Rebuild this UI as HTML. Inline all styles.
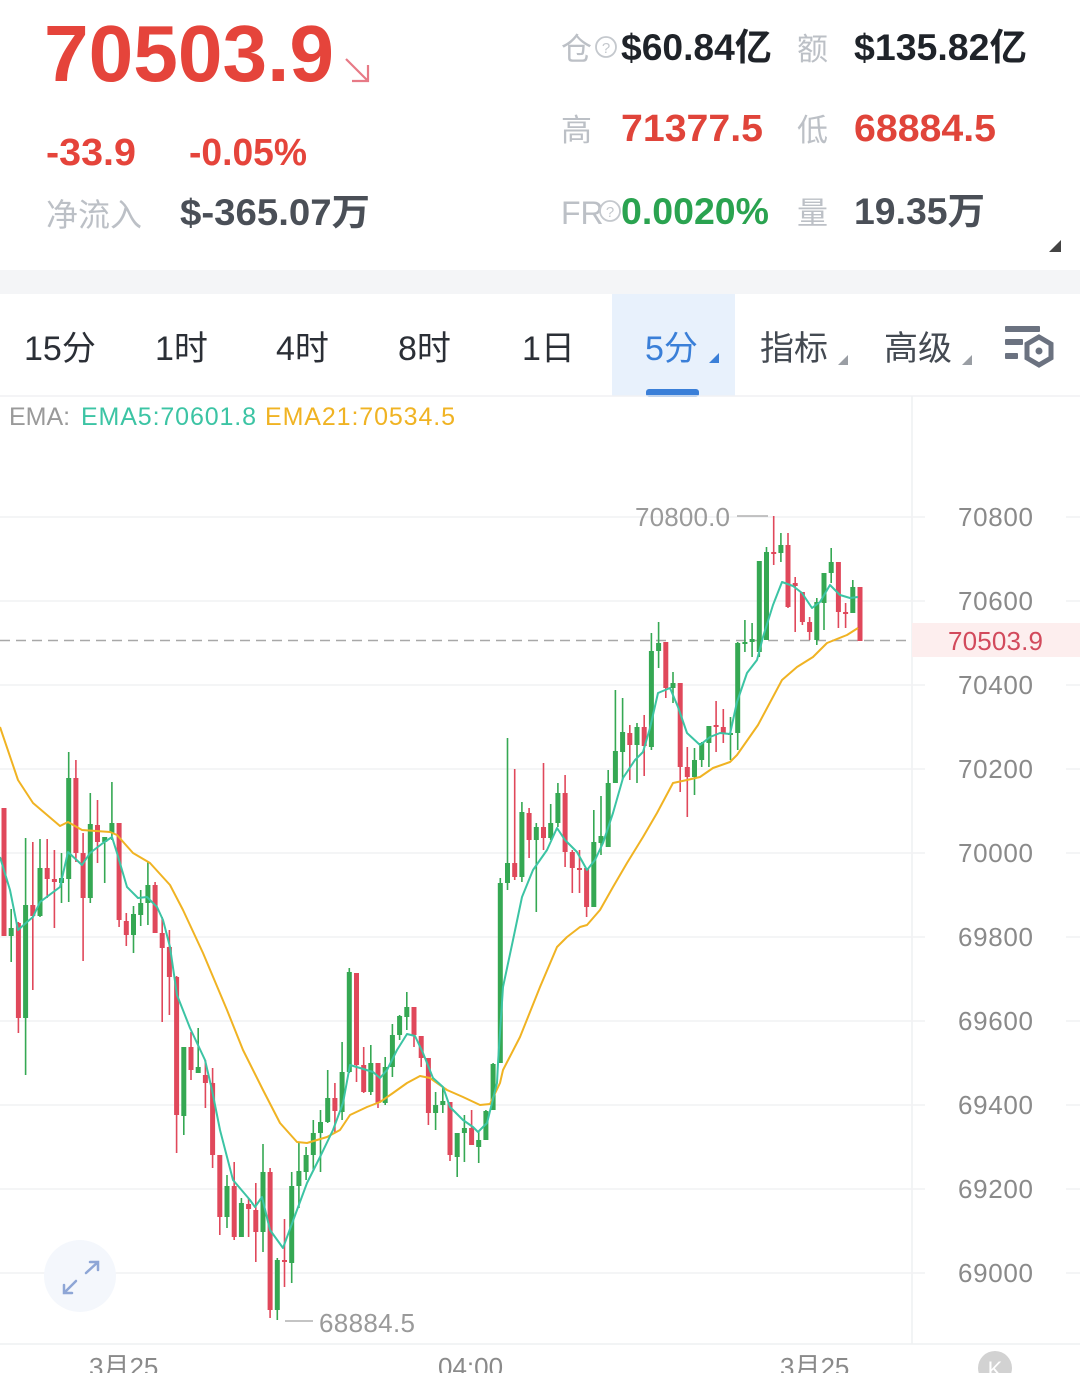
<!DOCTYPE html>
<html><head><meta charset="utf-8"><style>
html,body{margin:0;padding:0;background:#fff;}
body{width:1080px;height:1373px;overflow:hidden;}
svg{display:block;font-family:"Liberation Sans","Noto Sans CJK SC",sans-serif;}
</style></head><body>
<svg width="1080" height="1373" viewBox="0 0 1080 1373" xmlns="http://www.w3.org/2000/svg">
<rect width="1080" height="1373" fill="#fff"/>
<text x="44" y="81" font-size="80" font-weight="bold" fill="#e5443b" textLength="290" lengthAdjust="spacingAndGlyphs">70503.9</text>
<g stroke="#e77a86" stroke-width="2.2" fill="none"><path d="M346 59 L368 81 M368 65 V81 H352"/></g>
<text x="46" y="165" font-size="38" font-weight="bold" fill="#e5443b" textLength="90" lengthAdjust="spacingAndGlyphs">-33.9</text>
<text x="189" y="165" font-size="38" font-weight="bold" fill="#e5443b" textLength="118" lengthAdjust="spacingAndGlyphs">-0.05%</text>
<text x="46" y="226" font-size="32" fill="#bcc0c6">净流入</text>
<text x="180" y="225" font-size="37" font-weight="bold" fill="#4a4f57" textLength="190" lengthAdjust="spacingAndGlyphs">$-365.07万</text>
<text x="561" y="60" font-size="31" fill="#bcc0c6">仓</text>
<circle cx="606" cy="47" r="10" fill="none" stroke="#c4c8cd" stroke-width="1.8"/>
<text x="606" y="53" font-size="15" fill="#c4c8cd" text-anchor="middle">?</text>
<text x="621" y="60" font-size="37" font-weight="bold" fill="#1f2329" textLength="151" lengthAdjust="spacingAndGlyphs">$60.84亿</text>
<text x="797" y="60" font-size="31" fill="#bcc0c6">额</text>
<text x="854" y="60" font-size="37" font-weight="bold" fill="#1f2329" textLength="173" lengthAdjust="spacingAndGlyphs">$135.82亿</text>
<text x="561" y="141" font-size="31" fill="#bcc0c6">高</text>
<text x="621" y="141" font-size="38" font-weight="bold" fill="#e0443a" textLength="142" lengthAdjust="spacingAndGlyphs">71377.5</text>
<text x="797" y="141" font-size="31" fill="#bcc0c6">低</text>
<text x="854" y="141" font-size="38" font-weight="bold" fill="#e0443a" textLength="142" lengthAdjust="spacingAndGlyphs">68884.5</text>
<text x="561" y="224" font-size="32" fill="#bcc0c6">FR</text>
<circle cx="610" cy="211" r="10" fill="#fff" stroke="#c4c8cd" stroke-width="1.8"/>
<text x="610" y="217" font-size="15" fill="#c4c8cd" text-anchor="middle">?</text>
<text x="621" y="224" font-size="37" font-weight="bold" fill="#2aa350" textLength="148" lengthAdjust="spacingAndGlyphs">0.0020%</text>
<text x="797" y="224" font-size="31" fill="#bcc0c6">量</text>
<text x="854" y="224" font-size="37" font-weight="bold" fill="#4a4f57" textLength="131" lengthAdjust="spacingAndGlyphs">19.35万</text>
<path d="M1061 240 V252 H1049 Z" fill="#444"/>
<rect x="0" y="270" width="1080" height="24" fill="#f4f5f7"/>
<rect x="612" y="294" width="123" height="102" fill="#e8f1fc"/>
<g font-size="34" fill="#2b2f36">
<text x="24" y="360">15分</text>
<text x="155" y="360">1时</text>
<text x="276" y="360">4时</text>
<text x="398" y="360">8时</text>
<text x="522" y="360">1日</text>
</g>
<text x="645" y="360" font-size="34" fill="#3a7fd8">5分</text>
<path d="M719 353 V363 H709 Z" fill="#3a7fd8"/>
<rect x="646" y="389" width="53" height="8" rx="3" fill="#3a7fd8"/>
<text x="760" y="360" font-size="34" fill="#444a52">指标</text>
<path d="M848 355 V365 H838 Z" fill="#9a9ea4"/>
<text x="884" y="360" font-size="34" fill="#444a52">高级</text>
<path d="M972 355 V365 H962 Z" fill="#9a9ea4"/>
<g fill="#6b7280">
<rect x="1005" y="326" width="35" height="6" rx="1"/>
<rect x="1005" y="339" width="18" height="6" rx="1"/>
<rect x="1005" y="353" width="13" height="6" rx="1"/>
</g>
<polygon points="1039,337 1051,344 1051,358 1039,365 1027,358 1027,344" fill="none" stroke="#6b7280" stroke-width="5"/>
<circle cx="1039" cy="351" r="3.5" fill="#6b7280"/>
<line x1="0" y1="396" x2="1080" y2="396" stroke="#f0f1f3" stroke-width="1.5"/>
<line x1="912" y1="396" x2="912" y2="1344" stroke="#eef0f2" stroke-width="1.5"/>
<text x="9" y="425" font-size="25" fill="#9a9a9a">EMA:</text>
<text x="81" y="425" font-size="25" fill="#3cc4a4" textLength="175">EMA5:70601.8</text>
<text x="265" y="425" font-size="25" fill="#f0b323" textLength="190">EMA21:70534.5</text>
<g stroke="#f1f2f4" stroke-width="1.5">
<path d="M0 517H925M1066 517H1080M0 601H925M1066 601H1080M0 685H925M1066 685H1080M0 769H925M1066 769H1080M0 853H925M1066 853H1080M0 937H925M1066 937H1080M0 1021H925M1066 1021H1080M0 1105H925M1066 1105H1080M0 1189H925M1066 1189H1080M0 1273H925M1066 1273H1080"/>
</g>
<g font-size="26" fill="#8a8a8a">
<text x="958" y="526" textLength="75">70800</text>
<text x="958" y="610" textLength="75">70600</text>
<text x="958" y="694" textLength="75">70400</text>
<text x="958" y="778" textLength="75">70200</text>
<text x="958" y="862" textLength="75">70000</text>
<text x="958" y="946" textLength="75">69800</text>
<text x="958" y="1030" textLength="75">69600</text>
<text x="958" y="1114" textLength="75">69400</text>
<text x="958" y="1198" textLength="75">69200</text>
<text x="958" y="1282" textLength="75">69000</text>
</g>
<rect x="912" y="623" width="168" height="34" fill="#fdeeee"/>
<text x="948" y="650" font-size="26" fill="#d24a5c" textLength="95">70503.9</text>
<line x1="0" y1="640.5" x2="912" y2="640.5" stroke="#a8a8a8" stroke-width="1.6" stroke-dasharray="10,6"/>
<g stroke="#e0485b" stroke-width="1.6" fill="none">
<path d="M4 808V936M18.4 922V1033M32.8 842V990M47.2 839V898M54.4 850V928M75.9 760V862M83.1 833V961M97.5 800V863M119.1 823V927M126.3 913V946M155.1 882V933M162.2 917V1022M169.4 930V1015M176.6 976V1153M191 1032V1080M205.4 1060V1108M212.6 1068V1168M219.8 1155V1235M234.2 1162V1240M248.6 1198V1237M255.8 1183V1262M270.1 1168V1318M284.5 1219V1287M334.9 1083V1132M356.5 973V1082M363.7 1047V1093M378 1063V1108M414 1007V1047M421.2 1036V1067M428.4 1058V1125M450 1102V1161M471.6 1110V1145M514.7 769V880M529.1 808V858M543.5 763V850M565.1 775V867M572.3 850V893M579.5 850V893M586.6 868V917M629.8 725V780M644.2 715V776M665.8 642V698M680.2 683V792M687.3 747V817M716.1 701V752M723.3 709V743M773.7 516V565M788 533V608M795.2 577V632M802.4 592V625M809.6 617V640M838.4 562V628M845.6 603V628M860 587V641"/>
</g>
<g fill="#e0485b">
<rect x="1.5" y="808" width="5" height="128"/>
<rect x="15.9" y="923" width="5" height="95"/>
<rect x="30.3" y="905" width="5" height="11"/>
<rect x="44.7" y="868" width="5" height="11"/>
<rect x="51.9" y="879" width="5" height="3"/>
<rect x="73.4" y="778" width="5" height="75"/>
<rect x="80.6" y="853" width="5" height="45"/>
<rect x="95" y="825" width="5" height="17"/>
<rect x="116.6" y="823" width="5" height="97"/>
<rect x="123.8" y="921" width="5" height="14"/>
<rect x="152.6" y="885" width="5" height="48"/>
<rect x="159.7" y="933" width="5" height="15"/>
<rect x="166.9" y="947" width="5" height="30"/>
<rect x="174.1" y="977" width="5" height="138"/>
<rect x="188.5" y="1047" width="5" height="23"/>
<rect x="202.9" y="1075" width="5" height="8"/>
<rect x="210.1" y="1083" width="5" height="72"/>
<rect x="217.3" y="1155" width="5" height="62"/>
<rect x="231.7" y="1186" width="5" height="51"/>
<rect x="246.1" y="1204" width="5" height="5"/>
<rect x="253.3" y="1210" width="5" height="22"/>
<rect x="267.6" y="1172" width="5" height="138"/>
<rect x="282" y="1260" width="5" height="2"/>
<rect x="332.4" y="1098" width="5" height="13"/>
<rect x="354" y="973" width="5" height="92"/>
<rect x="361.2" y="1065" width="5" height="27"/>
<rect x="375.5" y="1063" width="5" height="40"/>
<rect x="411.5" y="1007" width="5" height="28"/>
<rect x="418.7" y="1036" width="5" height="22"/>
<rect x="425.9" y="1058" width="5" height="55"/>
<rect x="447.5" y="1102" width="5" height="53"/>
<rect x="469.1" y="1128" width="5" height="17"/>
<rect x="512.2" y="863" width="5" height="14"/>
<rect x="526.6" y="813" width="5" height="27"/>
<rect x="541" y="827" width="5" height="11"/>
<rect x="562.6" y="793" width="5" height="59"/>
<rect x="569.8" y="852" width="5" height="16"/>
<rect x="577" y="868" width="5" height="2"/>
<rect x="584.1" y="868" width="5" height="39"/>
<rect x="627.3" y="733" width="5" height="12"/>
<rect x="641.7" y="727" width="5" height="19"/>
<rect x="663.3" y="642" width="5" height="46"/>
<rect x="677.7" y="683" width="5" height="84"/>
<rect x="684.8" y="767" width="5" height="10"/>
<rect x="713.6" y="725" width="5" height="2"/>
<rect x="720.8" y="727" width="5" height="6"/>
<rect x="771.2" y="552" width="5" height="2"/>
<rect x="785.5" y="545" width="5" height="62"/>
<rect x="792.7" y="583" width="5" height="3"/>
<rect x="799.9" y="592" width="5" height="30"/>
<rect x="807.1" y="622" width="5" height="10"/>
<rect x="835.9" y="562" width="5" height="50"/>
<rect x="843.1" y="612" width="5" height="2"/>
<rect x="857.5" y="587" width="5" height="54"/>
</g>
<g stroke="#35a853" stroke-width="1.6" fill="none">
<path d="M11.2 909V962M25.6 838V1075M40 839V917M61.5 853V903M68.7 752V902M90.3 793V903M104.7 837V883M111.9 782V840M133.5 906V953M140.7 890V926M147.9 862V925M183.8 1047V1135M198.2 1028V1073M227 1175V1228M241.4 1198V1237M263 1144V1252M277.3 1258V1320M291.7 1172V1283M298.9 1143V1208M306.1 1147V1180M313.3 1120V1171M320.5 1110V1172M327.7 1070V1123M342.1 1042V1120M349.3 968V1073M370.8 1045V1095M385.2 1057V1105M392.4 1024V1077M399.6 1015V1040M406.8 992V1030M435.6 1092V1130M442.8 1087V1113M457.2 1133V1177M464.4 1115V1162M478.7 1132V1163M485.9 1110V1140M493.1 1063V1110M500.3 878V1063M507.5 738V890M521.9 802V882M536.3 823V912M550.7 804V840M557.9 783V827M593.8 810V907M601 796V855M608.2 770V847M615.4 690V783M622.6 698V780M637 723V783M651.4 633V750M658.6 622V668M673 672V703M694.5 748V795M701.7 742V767M708.9 726V767M730.5 717V760M737.7 642V750M744.9 620V652M752.1 623V657M759.3 561V657M766.5 547V640M780.9 533V562M816.8 598V645M824 573V630M831.2 548V583M852.8 580V613"/>
</g>
<g fill="#35a853">
<rect x="8.7" y="928" width="5" height="8"/>
<rect x="23.1" y="905" width="5" height="113"/>
<rect x="37.5" y="868" width="5" height="48"/>
<rect x="59" y="878" width="5" height="5"/>
<rect x="66.2" y="778" width="5" height="101"/>
<rect x="87.8" y="824" width="5" height="74"/>
<rect x="102.2" y="837" width="5" height="5"/>
<rect x="109.4" y="823" width="5" height="10"/>
<rect x="131" y="914" width="5" height="21"/>
<rect x="138.2" y="903" width="5" height="12"/>
<rect x="145.4" y="885" width="5" height="18"/>
<rect x="181.3" y="1047" width="5" height="69"/>
<rect x="195.7" y="1067" width="5" height="6"/>
<rect x="224.5" y="1186" width="5" height="31"/>
<rect x="238.9" y="1203" width="5" height="34"/>
<rect x="260.5" y="1172" width="5" height="60"/>
<rect x="274.8" y="1260" width="5" height="50"/>
<rect x="289.2" y="1186" width="5" height="77"/>
<rect x="296.4" y="1171" width="5" height="15"/>
<rect x="303.6" y="1155" width="5" height="17"/>
<rect x="310.8" y="1133" width="5" height="22"/>
<rect x="318" y="1122" width="5" height="11"/>
<rect x="325.2" y="1098" width="5" height="24"/>
<rect x="339.6" y="1072" width="5" height="40"/>
<rect x="346.8" y="972" width="5" height="100"/>
<rect x="368.3" y="1063" width="5" height="29"/>
<rect x="382.7" y="1067" width="5" height="36"/>
<rect x="389.9" y="1035" width="5" height="32"/>
<rect x="397.1" y="1016" width="5" height="19"/>
<rect x="404.3" y="1007" width="5" height="10"/>
<rect x="433.1" y="1105" width="5" height="8"/>
<rect x="440.3" y="1101" width="5" height="4"/>
<rect x="454.7" y="1133" width="5" height="24"/>
<rect x="461.9" y="1128" width="5" height="5"/>
<rect x="476.2" y="1140" width="5" height="7"/>
<rect x="483.4" y="1111" width="5" height="29"/>
<rect x="490.6" y="1064" width="5" height="46"/>
<rect x="497.8" y="883" width="5" height="180"/>
<rect x="505" y="863" width="5" height="20"/>
<rect x="519.4" y="812" width="5" height="65"/>
<rect x="533.8" y="827" width="5" height="13"/>
<rect x="548.2" y="823" width="5" height="15"/>
<rect x="555.4" y="793" width="5" height="30"/>
<rect x="591.3" y="842" width="5" height="65"/>
<rect x="598.5" y="836" width="5" height="7"/>
<rect x="605.7" y="783" width="5" height="64"/>
<rect x="612.9" y="751" width="5" height="32"/>
<rect x="620.1" y="732" width="5" height="20"/>
<rect x="634.5" y="727" width="5" height="18"/>
<rect x="648.9" y="651" width="5" height="96"/>
<rect x="656.1" y="643" width="5" height="8"/>
<rect x="670.5" y="683" width="5" height="5"/>
<rect x="692" y="760" width="5" height="17"/>
<rect x="699.2" y="743" width="5" height="17"/>
<rect x="706.4" y="726" width="5" height="17"/>
<rect x="728" y="733" width="5" height="2"/>
<rect x="735.2" y="643" width="5" height="90"/>
<rect x="742.4" y="642" width="5" height="2"/>
<rect x="749.6" y="639" width="5" height="3"/>
<rect x="756.8" y="561" width="5" height="91"/>
<rect x="764" y="552" width="5" height="88"/>
<rect x="778.4" y="545" width="5" height="8"/>
<rect x="814.3" y="602" width="5" height="38"/>
<rect x="821.5" y="573" width="5" height="30"/>
<rect x="828.7" y="562" width="5" height="11"/>
<rect x="850.3" y="587" width="5" height="26"/>
</g>
<polyline fill="none" stroke="#f0b323" stroke-width="2" stroke-linejoin="round" points="0,727 18,780 33,803 60,826 68,822 82,830 110,832 117,835 133,853 150,863 170,885 183,910 203,953 227,1010 243,1050 263,1090 280,1123 297,1142 307,1143 327,1137 340,1130 350,1115 367,1107 380,1102 393,1093 407,1083 420,1076 430,1078 447,1090 463,1097 480,1105 490,1104 500,1083 503,1070 520,1037 540,987 557,947 567,937 580,927 587,925 600,910 613,887 627,863 643,837 657,813 673,783 687,780 700,777 713,768 730,762 737,755 758,725 782,680 797,667 813,657 827,643 847,635 858,628"/>
<polyline fill="none" stroke="#3cc4a4" stroke-width="2" stroke-linejoin="round" points="0,857 10,890 18,930 27,922 33,917 40,902 60,887 68,852 82,865 90,853 103,843 112,837 117,853 127,887 138,898 147,897 157,907 163,920 170,947 177,995 190,1028 205,1060 212,1090 220,1130 233,1180 250,1200 255,1207 262,1197 270,1230 283,1248 297,1210 307,1183 320,1157 333,1130 343,1103 350,1065 360,1068 373,1072 380,1078 387,1070 397,1050 407,1034 415,1036 423,1053 433,1078 443,1087 450,1107 463,1120 473,1127 478,1132 487,1123 497,1083 498,1063 503,987 513,940 522,897 533,870 547,850 557,828 565,840 577,852 587,870 595,860 603,843 613,813 623,778 635,760 643,752 650,728 658,693 670,688 678,707 687,733 700,745 710,737 720,733 730,734 737,702 747,673 757,660 763,637 773,605 782,582 793,586 802,593 812,608 820,602 830,585 840,595 850,598 858,597"/>
<text x="635" y="526" font-size="26" fill="#9a9a9a" textLength="95">70800.0</text>
<line x1="737" y1="516" x2="768" y2="516" stroke="#b0b0b0" stroke-width="1.5"/>
<line x1="285" y1="1321" x2="313" y2="1321" stroke="#b0b0b0" stroke-width="1.5"/>
<text x="319" y="1332" font-size="26" fill="#9a9a9a" textLength="96">68884.5</text>
<circle cx="80" cy="1276" r="36" fill="#f4f7fc"/>
<g stroke="#8ea6d6" stroke-width="2.5" fill="none" stroke-linecap="round">
<path d="M86 1273 L98 1262 M90 1262 H98 V1270"/>
<path d="M76 1281 L64 1293 M64 1285 V1293 H72"/>
</g>
<line x1="0" y1="1344" x2="1080" y2="1344" stroke="#eef0f2" stroke-width="1.5"/>
<g font-size="26" fill="#8a8a8a">
<text x="89" y="1376">3月25</text>
<text x="438" y="1376">04:00</text>
<text x="780" y="1376">3月25</text>
</g>
<circle cx="995" cy="1368" r="17" fill="#d2d2d2"/>
<text x="995" y="1377" font-size="22" fill="#fff" text-anchor="middle">K</text>
</svg>
</body></html>
